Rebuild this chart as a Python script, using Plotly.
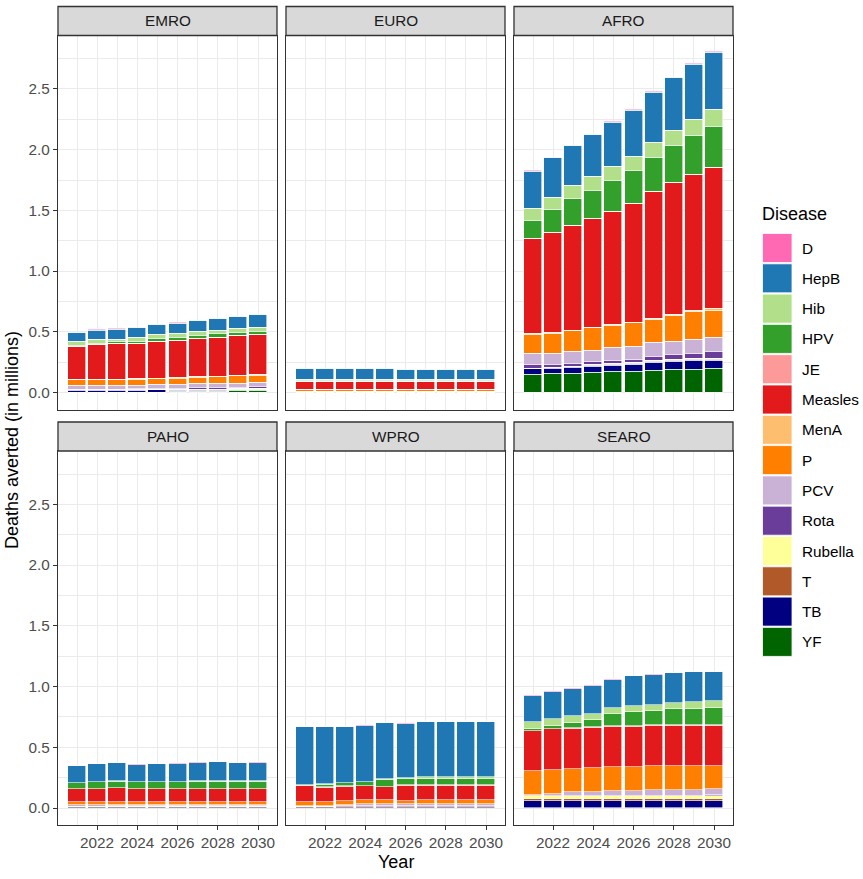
import plotly.graph_objects as go

years = list(range(2021, 2031))
regions = ["EMRO", "EURO", "AFRO", "PAHO", "WPRO", "SEARO"]
diseases = ["D", "HepB", "Hib", "HPV", "JE", "Measles", "MenA", "P",
            "PCV", "Rota", "Rubella", "T", "TB", "YF"]
disease_colors = ["#FF69B4", "#1F78B4", "#B2DF8A", "#33A02C", "#FB9A99",
                  "#E31A1C", "#FDBF6F", "#FF7F00", "#CAB2D6", "#6A3D9A",
                  "#FFFF99", "#B15928", "#000080", "#006400"]
y_ticks = [0, 0.5, 1.0, 1.5, 2.0, 2.5]
x_ticks = [2022, 2024, 2026, 2028, 2030]

Z = [0.0] * 10

emro = {
    "D":       [0.002, 0.002, 0.002, 0.005, 0.004, 0.004, 0.004, 0.004, 0.004, 0.004],
    "HepB":    [0.077, 0.080, 0.083, 0.080, 0.083, 0.088, 0.091, 0.094, 0.097, 0.102],
    "Hib":     [0.028, 0.028, 0.022, 0.030, 0.033, 0.028, 0.033, 0.030, 0.033, 0.033],
    "HPV":     [0.006, 0.006, 0.011, 0.017, 0.022, 0.022, 0.025, 0.028, 0.028, 0.028],
    "JE":      Z,
    "Measles": [0.273, 0.290, 0.298, 0.293, 0.304, 0.309, 0.312, 0.320, 0.326, 0.331],
    "MenA":    [0.004] * 10,
    "P":       [0.050, 0.050, 0.048, 0.050, 0.048, 0.054, 0.054, 0.056, 0.060, 0.062],
    "PCV":     [0.027, 0.027, 0.027, 0.027, 0.030, 0.030, 0.030, 0.032, 0.033, 0.033],
    "Rota":    [0.005, 0.005, 0.005, 0.008, 0.010, 0.012, 0.015, 0.016, 0.016, 0.016],
    "Rubella": [0.0, 0.0, 0.0, 0.0, 0.0, 0.0, 0.003, 0.004, 0.005, 0.005],
    "T":       [0.003] * 10,
    "TB":      [0.020, 0.020, 0.020, 0.020, 0.018, 0.015, 0.010, 0.008, 0.008, 0.008],
    "YF":      [0.0, 0.0, 0.0, 0.0, 0.003, 0.005, 0.010, 0.012, 0.013, 0.014],
}

euro = {
    "D":       [0.001] * 10,
    "HepB":    [0.096, 0.096, 0.096, 0.096, 0.096, 0.088, 0.088, 0.088, 0.088, 0.088],
    "Hib":     [0.003] * 10,
    "HPV":     [0.014] * 10,
    "JE":      Z,
    "Measles": [0.066] * 10,
    "MenA":    Z,
    "P":       [0.012] * 10,
    "PCV":     [0.003] * 10,
    "Rota":    [0.002] * 10,
    "Rubella": Z,
    "T":       [0.001] * 10,
    "TB":      [0.003] * 10,
    "YF":      Z,
}

afro = {
    "D":       [0.004] * 10,
    "HepB":    [0.309, 0.325, 0.328, 0.347, 0.359, 0.381, 0.416, 0.438, 0.455, 0.474],
    "Hib":     [0.099, 0.104, 0.109, 0.112, 0.117, 0.117, 0.123, 0.121, 0.131, 0.140],
    "HPV":     [0.148, 0.189, 0.222, 0.230, 0.255, 0.271, 0.279, 0.306, 0.320, 0.334],
    "JE":      Z,
    "Measles": [0.780, 0.821, 0.862, 0.895, 0.933, 0.977, 1.043, 1.084, 1.119, 1.160],
    "MenA":    [0.005, 0.005, 0.005, 0.005, 0.005, 0.006, 0.008, 0.010, 0.012, 0.015],
    "P":       [0.159, 0.167, 0.167, 0.184, 0.187, 0.197, 0.197, 0.212, 0.226, 0.223],
    "PCV":     [0.088, 0.090, 0.099, 0.096, 0.107, 0.107, 0.115, 0.112, 0.120, 0.120],
    "Rota":    [0.036, 0.025, 0.025, 0.027, 0.025, 0.019, 0.033, 0.038, 0.038, 0.057],
    "Rubella": [0.0, 0.004, 0.004, 0.004, 0.004, 0.009, 0.008, 0.009, 0.011, 0.006],
    "T":       [0.004, 0.010, 0.010, 0.007, 0.007, 0.010, 0.008, 0.010, 0.011, 0.008],
    "TB":      [0.049, 0.041, 0.049, 0.055, 0.055, 0.057, 0.063, 0.068, 0.068, 0.068],
    "YF":      [0.145, 0.153, 0.153, 0.161, 0.170, 0.175, 0.181, 0.186, 0.192, 0.197],
}

paho = {
    "D":       [0.001, 0.001, 0.001, 0.001, 0.001, 0.001, 0.004, 0.002, 0.002, 0.002],
    "HepB":    [0.139, 0.144, 0.150, 0.142, 0.147, 0.148, 0.150, 0.155, 0.147, 0.150],
    "Hib":     [0.003, 0.003, 0.003, 0.005, 0.005, 0.005, 0.006, 0.006, 0.007, 0.007],
    "HPV":     [0.050, 0.056, 0.056, 0.056, 0.058, 0.058, 0.058, 0.058, 0.061, 0.056],
    "JE":      Z,
    "Measles": [0.108, 0.108, 0.115, 0.106, 0.106, 0.106, 0.108, 0.108, 0.108, 0.111],
    "MenA":    Z,
    "P":       [0.020, 0.022, 0.020, 0.028, 0.028, 0.028, 0.028, 0.028, 0.028, 0.028],
    "PCV":     [0.006, 0.006, 0.006, 0.004, 0.004, 0.004, 0.004, 0.004, 0.004, 0.004],
    "Rota":    [0.003] * 10,
    "Rubella": [0.006, 0.006, 0.005, 0.002, 0.002, 0.002, 0.002, 0.002, 0.002, 0.002],
    "T":       [0.001] * 10,
    "TB":      [0.008] * 10,
    "YF":      [0.003] * 10,
}

wpro = {
    "D":       [0.001] * 10,
    "HepB":    [0.478, 0.475, 0.459, 0.462, 0.459, 0.451, 0.454, 0.454, 0.454, 0.454],
    "Hib":     [0.005, 0.003, 0.005, 0.005, 0.005, 0.008, 0.016, 0.016, 0.016, 0.016],
    "HPV":     [0.000, 0.022, 0.025, 0.030, 0.055, 0.049, 0.049, 0.049, 0.049, 0.049],
    "JE":      [0.003] * 10,
    "Measles": [0.131, 0.117, 0.115, 0.117, 0.112, 0.123, 0.120, 0.120, 0.120, 0.120],
    "MenA":    Z,
    "P":       [0.030, 0.030, 0.033, 0.033, 0.033, 0.030, 0.030, 0.030, 0.030, 0.030],
    "PCV":     [0.003, 0.003, 0.008, 0.010, 0.010, 0.012, 0.015, 0.015, 0.015, 0.015],
    "Rota":    [0.002] * 10,
    "Rubella": [0.004] * 10,
    "T":       [0.001] * 10,
    "TB":      [0.010, 0.010, 0.012, 0.012, 0.012, 0.012, 0.012, 0.012, 0.012, 0.012],
    "YF":      Z,
}

searo = {
    "D":       [0.004] * 10,
    "HepB":    [0.215, 0.226, 0.226, 0.234, 0.237, 0.240, 0.245, 0.248, 0.248, 0.240],
    "Hib":     [0.057, 0.054, 0.054, 0.052, 0.049, 0.057, 0.057, 0.049, 0.057, 0.057],
    "HPV":     [0.014, 0.025, 0.041, 0.057, 0.098, 0.114, 0.114, 0.131, 0.131, 0.139],
    "JE":      [0.006] * 10,
    "Measles": [0.327, 0.332, 0.330, 0.332, 0.332, 0.332, 0.332, 0.332, 0.332, 0.332],
    "MenA":    Z,
    "P":       [0.199, 0.199, 0.196, 0.199, 0.199, 0.191, 0.196, 0.196, 0.196, 0.191],
    "PCV":     [0.011, 0.022, 0.033, 0.033, 0.041, 0.049, 0.052, 0.052, 0.052, 0.044],
    "Rota":    [0.0, 0.0, 0.0, 0.0, 0.0, 0.0, 0.0, 0.0, 0.0, 0.016],
    "Rubella": [0.020] * 10,
    "T":       [0.018] * 10,
    "TB":      [0.057] * 10,
    "YF":      Z,
}

region_data = {"EMRO": emro, "EURO": euro, "AFRO": afro,
               "PAHO": paho, "WPRO": wpro, "SEARO": searo}

# ---------------- layout geometry (pixels) ----------------
W, H = 863, 879
col_left = [58, 286, 514]
panel_w = 219
row_top = [35.5, 451]
panel_h = 374
strip_h = 29

FONT = "Arial, Liberation Sans, sans-serif"
GRID = "#EBEBEB"
BORDER = "#333333"
TICK_SIZE = 15.3
TITLE_SIZE = 18

fig = go.Figure()
layout_updates = {}
shapes = []
annotations = []

for i, reg in enumerate(regions):
    r, c = divmod(i, 3)
    n = i + 1
    xa = "x" if n == 1 else f"x{n}"
    ya = "y" if n == 1 else f"y{n}"
    data = region_data[reg]
    for d in reversed(diseases):
        col = disease_colors[diseases.index(d)]
        fig.add_trace(go.Bar(
            x=years, y=data[d], name=d, width=0.9,
            marker=dict(color=col, line=dict(color="white", width=0.6)),
            xaxis=xa, yaxis=ya, showlegend=False,
        ))
    x0 = col_left[c] / W
    x1 = (col_left[c] + panel_w) / W
    y1 = 1 - row_top[r] / H
    y0 = 1 - (row_top[r] + panel_h) / H
    bottom = (r == 1)
    left = (c == 0)
    layout_updates["xaxis" if n == 1 else f"xaxis{n}"] = dict(
        domain=[x0, x1], anchor=ya, range=[2020.055, 2030.945],
        tickvals=x_ticks, ticktext=[str(v) for v in x_ticks],
        showticklabels=bottom, ticks="outside" if bottom else "",
        ticklen=4, tickwidth=1.2, tickcolor=BORDER,
        tickfont=dict(size=TICK_SIZE, color="#4D4D4D", family=FONT),
        ticklabelstandoff=-1,
        showgrid=True, gridcolor=GRID, gridwidth=1.2,
        minor=dict(tickvals=[2021, 2023, 2025, 2027, 2029], showgrid=True,
                   gridcolor=GRID, gridwidth=0.6, ticks=""),
        showline=True, mirror=True, linecolor=BORDER, linewidth=1.3,
        zeroline=False, fixedrange=True,
    )
    layout_updates["yaxis" if n == 1 else f"yaxis{n}"] = dict(
        domain=[y0, y1], anchor=xa, range=[-0.14, 2.94],
        tickvals=y_ticks, ticktext=[f"{v:.1f}" for v in y_ticks],
        showticklabels=left, ticks="outside" if left else "",
        ticklen=4, tickwidth=1.2, tickcolor=BORDER,
        tickfont=dict(size=TICK_SIZE, color="#4D4D4D", family=FONT),
        showgrid=True, gridcolor=GRID, gridwidth=1.2,
        minor=dict(tickvals=[0.25, 0.75, 1.25, 1.75, 2.25, 2.75], showgrid=True,
                   gridcolor=GRID, gridwidth=0.6, ticks=""),
        showline=True, mirror=True, linecolor=BORDER, linewidth=1.3,
        zeroline=False, fixedrange=True,
    )
    # strip
    st_top = 1 - (row_top[r] - strip_h) / H
    shapes.append(dict(type="rect", xref="paper", yref="paper",
                       x0=x0, x1=x1, y0=y1, y1=st_top,
                       fillcolor="#D9D9D9", line=dict(color=BORDER, width=1.3)))
    annotations.append(dict(xref="paper", yref="paper", x=(x0 + x1) / 2,
                            y=(y1 + st_top) / 2, text=reg, showarrow=False,
                            xanchor="center", yanchor="middle",
                            font=dict(size=TICK_SIZE, color="#1A1A1A", family=FONT)))

# axis titles
annotations.append(dict(xref="paper", yref="paper",
                        x=(col_left[0] + col_left[2] + panel_w) / 2 / W,
                        y=1 - 862 / H, text="Year", showarrow=False,
                        xanchor="center", yanchor="middle",
                        font=dict(size=TITLE_SIZE, color="black", family=FONT)))
annotations.append(dict(xref="paper", yref="paper", x=12 / W, y=1 - 440 / H,
                        text="Deaths averted (in millions)", showarrow=False,
                        textangle=-90, xanchor="center", yanchor="middle",
                        font=dict(size=TITLE_SIZE, color="black", family=FONT)))

# legend (drawn from the disease list)
annotations.append(dict(xref="paper", yref="paper", x=760 / W, y=1 - 214 / H,
                        text="Disease", showarrow=False, xanchor="left",
                        yanchor="middle",
                        font=dict(size=TITLE_SIZE, color="black", family=FONT)))
key_top, key_pitch, key_h = 233.5, 30.3, 29
for k, d in enumerate(diseases):
    t = key_top + k * key_pitch
    shapes.append(dict(type="rect", xref="paper", yref="paper",
                       x0=762.5 / W, x1=792 / W,
                       y0=1 - (t + key_h) / H, y1=1 - t / H,
                       fillcolor=disease_colors[k],
                       line=dict(color="white", width=0.8)))
    annotations.append(dict(xref="paper", yref="paper", x=800 / W,
                            y=1 - (t + key_h / 2) / H, text=d,
                            showarrow=False, xanchor="left", yanchor="middle",
                            font=dict(size=TICK_SIZE, color="black", family=FONT)))

fig.update_layout(
    **layout_updates,
    barmode="stack",
    bargap=0,
    width=W, height=H,
    margin=dict(l=0, r=0, t=0, b=0),
    paper_bgcolor="white", plot_bgcolor="white",
    shapes=shapes, annotations=annotations,
    showlegend=False,
    font=dict(family=FONT),
)

fig.write_html("out.html")
